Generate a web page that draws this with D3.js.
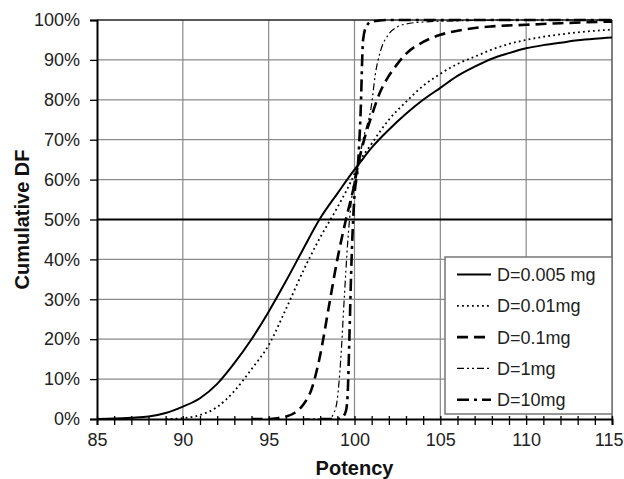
<!DOCTYPE html>
<html><head><meta charset="utf-8">
<script src="https://cdn.jsdelivr.net/npm/d3@7"></script>
<style>
html,body{margin:0;padding:0;background:#fff;}
svg{display:block;font-family:Arial,"Liberation Sans",sans-serif;}
</style></head>
<body>
<svg id="chart" width="624" height="479"></svg>
<script>
// ---- data ----
const xTicks = [85, 90, 95, 100, 105, 110, 115];
const yTicks = [0, 10, 20, 30, 40, 50, 60, 70, 80, 90, 100];
const seriesNames = ["D=0.005 mg", "D=0.01mg", "D=0.1mg", "D=1mg", "D=10mg"];

const potencyA = [85, 86, 87, 88, 89, 90, 91, 92, 93, 94, 95, 96, 97, 98, 99, 100, 100.2, 101, 102, 103, 104, 105, 106, 107, 108, 109, 110, 111, 112, 113, 114, 115];
const cdfA     = [0, 0.1, 0.3, 0.6, 1.5, 3.1, 5.2, 8.8, 14, 20, 26.9, 34.5, 42.5, 50.3, 56.5, 62.5, 63.6, 68, 72.5, 76.5, 80, 83, 86, 88.3, 90.3, 91.7, 92.9, 93.7, 94.3, 94.9, 95.3, 95.6];

const potencyB = [89, 90, 91, 92, 93, 94, 95, 96, 97, 98, 99, 100, 100.2, 101, 102, 103, 104, 105, 106, 107, 108, 109, 110, 111, 112, 113, 114, 115];
const cdfB     = [0, 0.2, 1.0, 3.0, 7.0, 12.5, 18.5, 27.5, 37, 45.5, 53, 61.5, 63.6, 69, 75, 79.5, 83.5, 86.5, 89, 90.8, 92.6, 94, 95, 95.8, 96.4, 96.9, 97.3, 97.6];

const potencyC = [94, 95, 95.5, 96, 96.5, 97, 97.5, 98, 98.5, 99, 99.5, 100, 100.2, 100.5, 101, 101.5, 102, 102.5, 103, 104, 105, 106, 107, 108, 110, 112, 115];
const cdfC     = [0, 0, 0.2, 0.6, 1.5, 3.5, 7.5, 16, 28, 40, 50, 59, 63.6, 69, 76, 82, 86, 89, 91.5, 94.5, 96.3, 97.3, 98, 98.4, 98.8, 99.2, 99.6];

const potencyD = [97, 98.5, 98.8, 99.0, 99.2, 99.4, 99.6, 99.8, 100.0, 100.2, 100.5, 101, 101.2, 101.5, 102, 102.5, 103, 104, 106, 110, 115];
const cdfD     = [0, 0, 1.5, 5, 15, 30, 44, 54, 60, 63.6, 70, 79, 86, 92, 96.5, 98.3, 99, 99.5, 99.8, 100, 100];

const potencyE = [98, 99.0, 99.3, 99.5, 99.6, 99.7, 99.8, 99.9, 100.0, 100.2, 100.35, 100.5, 100.7, 101, 102, 115];
const cdfE     = [0, 0, 0.5, 2, 6, 20, 36, 48, 56, 63.6, 76, 95, 98.5, 99.6, 100, 100];

// ---- layout ----
const svg = d3.select("#chart");
const L = 97, R = 612, T = 20, B = 419;
const x = d3.scaleLinear().domain([85, 115]).range([L, R]);
const y = d3.scaleLinear().domain([0, 100]).range([B, T]);

// gridlines
const g = svg.append("g");
g.selectAll(".hg").data(yTicks.filter(v => v > 0 && v < 100 && v !== 50)).enter().append("line")
  .attr("x1", L).attr("x2", R).attr("y1", d => y(d)).attr("y2", d => y(d))
  .attr("stroke", "#8a8a8a").attr("stroke-width", 1.2);
g.selectAll(".vg").data(xTicks.filter(v => v > 85 && v < 115)).enter().append("line")
  .attr("y1", T).attr("y2", B).attr("x1", d => x(d)).attr("x2", d => x(d))
  .attr("stroke", "#8a8a8a").attr("stroke-width", 1.2);

// frame top/right
svg.append("line").attr("x1", L).attr("x2", R).attr("y1", T).attr("y2", T).attr("stroke", "#222").attr("stroke-width", 1.5);
svg.append("line").attr("x1", R).attr("x2", R).attr("y1", T).attr("y2", B).attr("stroke", "#555").attr("stroke-width", 1.5);

// 50% line
svg.append("line").attr("x1", L).attr("x2", R).attr("y1", y(50)).attr("y2", y(50)).attr("stroke", "#000").attr("stroke-width", 2.2);

// clip
svg.append("clipPath").attr("id", "clip").append("rect").attr("x", L).attr("y", T - 2).attr("width", R - L).attr("height", B - T + 2);

const styles = [
  {w: 2, dash: null},
  {w: 1.8, dash: "1.8,3.2"},
  {w: 2.6, dash: "11,6"},
  {w: 1.2, dash: "7,3,2,3,2,3"},
  {w: 2.6, dash: "12,5,3,5"}
];
const datasets = [
  d3.zip(potencyA, cdfA), d3.zip(potencyB, cdfB), d3.zip(potencyC, cdfC), d3.zip(potencyD, cdfD), d3.zip(potencyE, cdfE)
];
const line = d3.line().x(d => x(d[0])).y(d => y(d[1])).curve(d3.curveMonotoneX);
const lg = svg.append("g").attr("clip-path", "url(#clip)");
datasets.forEach((ds, i) => {
  lg.append("path").attr("d", line(ds)).attr("fill", "none").attr("stroke", "#000")
    .attr("stroke-width", styles[i].w).attr("stroke-dasharray", styles[i].dash);
});

// axes
const xAxis = d3.axisBottom(x).tickValues(d3.range(85, 116, 1)).tickSize(6).tickFormat(d => xTicks.includes(d) ? d : "");
const xa = svg.append("g").attr("transform", `translate(0,${B})`).call(xAxis);
xa.select(".domain").attr("stroke", "#000").attr("stroke-width", 2);
xa.selectAll(".tick line").attr("stroke", "#000").attr("stroke-width", 1.3).attr("y1", -3);
xa.selectAll(".tick text").attr("font-size", 18).attr("font-family", "Arial, 'Liberation Sans', sans-serif").attr("fill", "#222").attr("dy", "1.15em").attr("y", 6);
// last label sits against the right edge of the picture
xa.selectAll(".tick text").filter(d => d === 115).attr("text-anchor", "end").attr("x", 623 - x(115));

const yAxis = d3.axisLeft(y).tickValues(yTicks).tickSize(7).tickPadding(10).tickFormat(d => d + "%");
const ya = svg.append("g").attr("transform", `translate(${L},0)`).call(yAxis);
ya.select(".domain").attr("stroke", "#000").attr("stroke-width", 2);
ya.selectAll(".tick line").attr("stroke", "#000").attr("stroke-width", 1.3);
ya.selectAll(".tick text").attr("font-size", 18).attr("font-family", "Arial, 'Liberation Sans', sans-serif").attr("fill", "#222");

// axis titles
svg.append("text").attr("x", x(100)).attr("y", 475).attr("text-anchor", "middle")
  .attr("font-size", 20).attr("font-weight", "bold").attr("fill", "#111").text("Potency");
svg.append("text").attr("transform", `translate(29,${y(50)}) rotate(-90)`).attr("text-anchor", "middle")
  .attr("font-size", 20).attr("font-weight", "bold").attr("fill", "#111").text("Cumulative DF");

// legend
const lgX = 445, lgY = 257, lgW = R - 445, lgH = 157;
const leg = svg.append("g");
leg.append("rect").attr("x", lgX).attr("y", lgY).attr("width", lgW).attr("height", lgH)
  .attr("fill", "#fff").attr("stroke", "#777").attr("stroke-width", 1.5);
seriesNames.forEach((name, i) => {
  const cy = 274.5 + i * 31.3;
  leg.append("line").attr("x1", 457).attr("x2", 491).attr("y1", cy).attr("y2", cy)
    .attr("stroke", "#000").attr("stroke-width", styles[i].w).attr("stroke-dasharray", styles[i].dash);
  leg.append("text").attr("x", 497).attr("y", cy).attr("dy", "0.36em").attr("font-size", 18).attr("fill", "#222").text(name);
});
</script>
</body></html>
